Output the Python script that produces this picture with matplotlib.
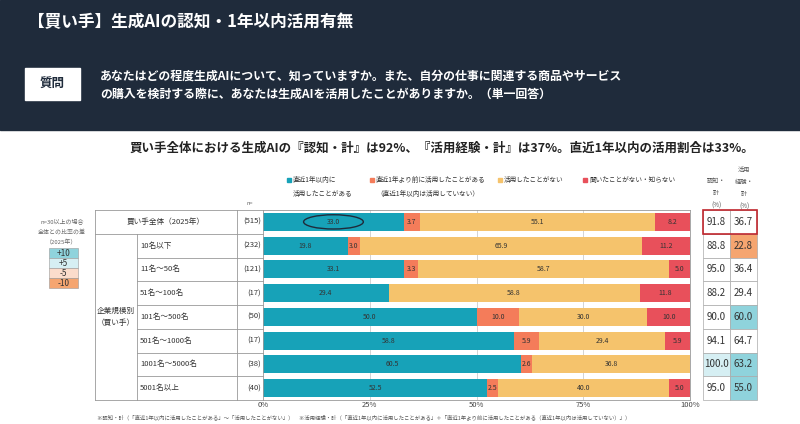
import numpy as np
import matplotlib.pyplot as plt
from matplotlib.patches import Rectangle, Ellipse

plt.rcParams['font.family'] = ['Noto Sans CJK JP', 'DejaVu Sans']

rows = ['買い手全体（2025年）', '10名以下', '11名～50名', '51名～100名', '101名～500名',
        '501名～1000名', '1001名～5000名', '5001名以上']
ns = [515, 232, 121, 17, 50, 17, 38, 40]
recent = [33.0, 19.8, 33.1, 29.4, 50.0, 58.8, 60.5, 52.5]
before = [3.7, 3.0, 3.3, 0.0, 10.0, 5.9, 2.6, 2.5]
never = [55.1, 65.9, 58.7, 58.8, 30.0, 29.4, 36.8, 40.0]
unknown = [8.2, 11.2, 5.0, 11.8, 10.0, 5.9, 0.0, 5.0]
aware = [91.8, 88.8, 95.0, 88.2, 90.0, 94.1, 100.0, 95.0]
used = [36.7, 22.8, 36.4, 29.4, 60.0, 64.7, 63.2, 55.0]
series_names = ['直近1年以内に\n活用したことがある', '直近1年より前に活用したことがある\n（直近1年以内は活用していない）',
                '活用したことがない', '聞いたことがない・知らない']
colors = ['#17a2b8', '#f47c5a', '#f5c36c', '#e8505b']

W, H = 800, 424
fig = plt.figure(figsize=(8, 4.24), dpi=100)
fig.patch.set_facecolor('white')

def fx(x): return x / W
def fy(y): return 1 - y / H

# header
fig.patches.append(Rectangle((0, fy(130)), 1, 130 / H, transform=fig.transFigure, color='#1f2b3b', zorder=0))
fig.text(fx(28), fy(22), '【買い手】生成AIの認知・1年以内活用有無', color='white', fontsize=12, weight='bold', va='center')
fig.patches.append(Rectangle((fx(25), fy(100)), fx(55), 32 / H, transform=fig.transFigure, color='white', zorder=1))
fig.text(fx(52), fy(84), '質問', color='#1f2b3b', fontsize=9, weight='bold', ha='center', va='center')
fig.text(fx(100), fy(76), 'あなたはどの程度生成AIについて、知っていますか。また、自分の仕事に関連する商品やサービス',
         color='white', fontsize=8.6, weight='bold', va='center')
fig.text(fx(100), fy(94), 'の購入を検討する際に、あなたは生成AIを活用したことがありますか。（単一回答）',
         color='white', fontsize=8.6, weight='bold', va='center')
fig.text(fx(130), fy(148), '買い手全体における生成AIの『認知・計』は92%、『活用経験・計』は37%。直近1年以内の活用割合は33%。',
         color='#222222', fontsize=9, weight='bold', va='center')

# bars
top, bot = 210, 400
ax = fig.add_axes([fx(263), fy(bot), fx(690 - 263), (bot - top) / H])
y = np.arange(len(rows))
left = np.zeros(len(rows))
for vals, c in zip([recent, before, never, unknown], colors):
    vals = np.array(vals)
    ax.barh(y, vals, left=left, color=c, height=0.75)
    for i, v in enumerate(vals):
        if v > 0:
            ax.text(left[i] + v / 2, i, f'{v:.1f}', ha='center', va='center', fontsize=5, color='#333333')
    left += vals
ax.add_patch(Ellipse((recent[0] / 2, 0), 14, 0.6, fill=False, ec='#1f2b3b', lw=1))
ax.set_xlim(0, 100)
ax.set_ylim(len(rows) - 0.5, -0.5)
ax.set_xticks([0, 25, 50, 75, 100])
ax.set_xticklabels(['0%', '25%', '50%', '75%', '100%'], fontsize=5.5, color='#444444')
ax.set_yticks([])
ax.tick_params(length=0, pad=1)
for x in [25, 50, 75]:
    ax.axvline(x, color='#cccccc', lw=0.6, zorder=0)
for s in ax.spines.values():
    s.set_color('#999999'); s.set_linewidth(0.6)

# legend
lx = [287, 370, 498, 583]
for i, (x, name) in enumerate(zip(lx, series_names)):
    fig.patches.append(Rectangle((fx(x), fy(182)), fx(4), 4 / H, transform=fig.transFigure, color=colors[i]))
    fig.text(fx(x + 6), fy(176), name, fontsize=4.8, color='#333333', va='top', linespacing=2.0)

# left table
rh = (bot - top) / len(rows)
tl = dict(color='#999999', lw=0.6)
def hline(x0, x1, yy): fig.add_artist(plt.Line2D([fx(x0), fx(x1)], [fy(yy), fy(yy)], **tl))
def vline(xx, y0, y1): fig.add_artist(plt.Line2D([fx(xx), fx(xx)], [fy(y0), fy(y1)], **tl))
hline(95, 263, top); hline(95, 263, bot); hline(95, 263, top + rh)
for i in range(2, len(rows)):
    hline(137, 263, top + i * rh)
vline(95, top, bot); vline(137, top + rh, bot); vline(237, top, bot)
fig.text(fx(166), fy(top + rh / 2), rows[0], fontsize=5.5, ha='center', va='center', color='#333333')
for i in range(1, len(rows)):
    fig.text(fx(140), fy(top + (i + 0.5) * rh), rows[i], fontsize=5.5, va='center', color='#333333')
for i in range(len(rows)):
    fig.text(fx(261), fy(top + (i + 0.5) * rh), f'({ns[i]})', fontsize=5.5, ha='right', va='center', color='#333333')
fig.text(fx(250), fy(205), 'n=', fontsize=4, ha='center', color='#666666')
fig.text(fx(116), fy(top + 4.5 * rh), '企業規模別\n（買い手）', fontsize=5.5, ha='center', va='center', color='#333333', linespacing=1.8)

# left color key
fig.text(fx(62), fy(232), 'n=30以上の場合\n全体との比率の差\n（2025年）', fontsize=4.3, ha='center', va='center', color='#666666', linespacing=1.9)
keys = [('+10', '#8fd3dc'), ('+5', '#d6eff3'), ('-5', '#fbdccb'), ('-10', '#f5a570')]
for i, (k, c) in enumerate(keys):
    yy = 248 + i * 10
    fig.patches.append(Rectangle((fx(49), fy(yy + 10)), fx(29), 10 / H, transform=fig.transFigure, fc=c, ec='#999999', lw=0.4))
    fig.text(fx(63.5), fy(yy + 5), k, fontsize=6, ha='center', va='center', color='#333333')

# right columns
fig.text(fx(716), fy(193), '認知・\n計\n(%)', fontsize=4.5, ha='center', va='center', color='#555555', linespacing=1.7)
fig.text(fx(744), fy(188), '活用\n経験・\n計\n(%)', fontsize=4.5, ha='center', va='center', color='#555555', linespacing=1.7)
for i in range(len(rows)):
    yy = top + i * rh
    for j, (vals, x0) in enumerate([(aware, 703), (used, 730)]):
        ref = aware[0] if j == 0 else used[0]
        d = vals[i] - ref
        fc = 'white'
        if i > 0 and ns[i] >= 30:
            if d >= 10: fc = '#8fd3dc'
            elif d >= 5: fc = '#d6eff3'
            elif d <= -10: fc = '#f5a570'
            elif d <= -5: fc = '#fbdccb'
        fig.patches.append(Rectangle((fx(x0), fy(yy + rh)), fx(27), rh / H, transform=fig.transFigure, fc=fc, ec='#aaaaaa', lw=0.5))
        fig.text(fx(x0 + 13.5), fy(yy + rh / 2), f'{vals[i]:.1f}', fontsize=7, ha='center', va='center', color='#333333')
fig.patches.append(Rectangle((fx(703), fy(top + rh)), fx(54), rh / H, transform=fig.transFigure, fill=False, ec='#c0262d', lw=1.2))

fig.text(fx(97), fy(417), '※認知・計（「直近1年以内に活用したことがある」～「活用したことがない」）　※活用経験・計（「直近1年以内に活用したことがある」＋「直近1年より前に活用したことがある（直近1年以内は活用していない）」）',
         fontsize=3.9, color='#555555', va='center')

fig.savefig('out.png', dpi=100)
